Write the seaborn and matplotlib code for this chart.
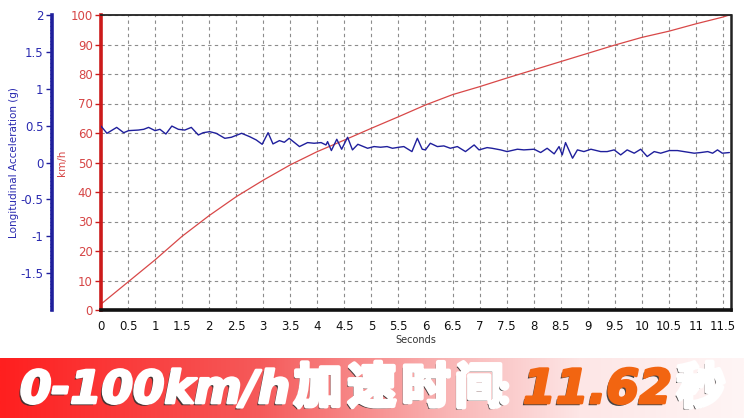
import matplotlib
matplotlib.use('Agg')
import matplotlib.pyplot as plt
import matplotlib.patheffects as pe
from matplotlib.ticker import MultipleLocator, FormatStrFormatter
from matplotlib.colors import LinearSegmentedColormap
import numpy as np
import pandas as pd
import seaborn as sns

# speed trace (km/h)
speed_t = [0, 0.5, 1, 1.5, 2, 2.5, 3, 3.5, 4, 4.5, 5, 5.5, 6, 6.5, 7,
           7.5, 8, 8.5, 9, 9.5, 10, 10.5, 11, 11.5, 11.62]
speed_kmh = [2, 9.5, 17, 25, 32, 38.4, 44, 49.2, 53.7, 57.6, 61.6, 65.5, 69.5, 73, 75.7,
             78.6, 81.4, 84.2, 87, 89.8, 92.4, 94.5, 97, 99.3, 100]

# longitudinal acceleration (g)
acc_t = [0, 0.11, 0.29, 0.42, 0.51, 0.69, 0.79, 0.88, 1.0, 1.09, 1.2, 1.31, 1.43, 1.55,
         1.67, 1.8, 1.89, 2.01, 2.13, 2.29, 2.41, 2.6, 2.75, 2.87, 2.98, 3.09, 3.18, 3.3,
         3.39, 3.48, 3.67, 3.82, 3.94, 4.07, 4.16, 4.19, 4.26, 4.36, 4.45, 4.56, 4.65, 4.75,
         4.93, 5.05, 5.17, 5.29, 5.39, 5.51, 5.6, 5.75, 5.85, 5.94,
         6.0, 6.09, 6.22, 6.34, 6.46, 6.59, 6.74, 6.9, 6.99, 7.14, 7.23, 7.39, 7.51, 7.7,
         7.82, 8.01, 8.13, 8.25, 8.38, 8.47, 8.53, 8.59, 8.72, 8.81, 8.93, 9.06, 9.24, 9.36,
         9.49, 9.61, 9.73, 9.86, 9.98, 10.1, 10.23, 10.35, 10.51, 10.66, 10.78, 10.97, 11.09,
         11.22, 11.31, 11.4, 11.49, 11.62]
acc_g = [0.494, 0.396, 0.476, 0.404, 0.432, 0.44, 0.45, 0.476, 0.432, 0.45, 0.386, 0.494,
         0.45, 0.44, 0.476, 0.373, 0.404, 0.418, 0.396, 0.328, 0.342, 0.396, 0.35, 0.306,
         0.247, 0.404, 0.252, 0.297, 0.274, 0.328, 0.216, 0.27, 0.261, 0.27, 0.238, 0.283,
         0.162, 0.315, 0.18, 0.342, 0.171, 0.247, 0.193, 0.216, 0.207, 0.216, 0.193, 0.207,
         0.216, 0.148, 0.328, 0.18,
         0.171, 0.261, 0.216, 0.225, 0.193, 0.216, 0.148, 0.238, 0.171, 0.202, 0.193, 0.171,
         0.148, 0.18, 0.171, 0.18, 0.135, 0.193, 0.117, 0.216, 0.103, 0.27, 0.058, 0.171,
         0.148, 0.18, 0.148, 0.148, 0.171, 0.103, 0.171, 0.126, 0.18, 0.081, 0.148, 0.126,
         0.162, 0.162, 0.148, 0.126, 0.135, 0.148, 0.126, 0.171, 0.126, 0.135]

x_ticks = np.arange(0, 11.51, 0.5)
x_tick_labels = ['%g' % v for v in x_ticks]

# banner text: Latin runs and CJK glyphs
banner_latin = ['0-100km/h', '11.62']
banner_cjk = ['加', '速', '时', '间', '：', '秒']

RED = '#cc1a1a'
RED_TXT = '#d64545'
BLUE = '#1f1f9c'
BLUE_TXT = '#2a2ab0'
ORANGE = '#f26511'

sns.set_style('white')
plt.rcParams['font.family'] = ['DejaVu Sans', 'Noto Sans CJK SC']

fig = plt.figure(figsize=(7.44, 4.18), dpi=100)
ax = fig.add_axes([101 / 744, 1 - 310 / 418, 630 / 744, 295 / 418])

speed_df = pd.DataFrame({'t': speed_t, 'v': speed_kmh})
acc_df = pd.DataFrame({'t': acc_t, 'g': acc_g})

sns.lineplot(data=speed_df, x='t', y='v', ax=ax, color='#d84848', linewidth=0.9)
ax.set_xlim(0, 11.65)
ax.set_ylim(0, 100)
ax.set_xticks(x_ticks)
ax.set_xticklabels(x_tick_labels)
ax.xaxis.set_minor_locator(MultipleLocator(0.125))
ax.yaxis.set_major_locator(MultipleLocator(10))
ax.grid(True, which='major', color='#8c8c8c', linestyle=(0, (3, 3)), linewidth=0.8)
ax.tick_params(axis='x', which='major', length=4, width=1, labelsize=8.5, colors='#111111', pad=3)
ax.tick_params(axis='x', which='minor', length=2, width=0.8, color='#111111')
ax.tick_params(axis='y', which='major', length=4, width=1, labelsize=8.5,
               colors=RED, labelcolor=RED_TXT, pad=2)
ax.set_xlabel('')
ax.set_ylabel('km/h', color=RED_TXT, fontsize=7.5)
ax.yaxis.set_label_coords(-34 / 630, 0.5)
ax.spines['left'].set_color(RED)
ax.spines['left'].set_linewidth(2.6)
ax.spines['bottom'].set_color('#111111')
ax.spines['bottom'].set_linewidth(2.6)
ax.spines['top'].set_color('#222222')
ax.spines['top'].set_linewidth(1.3)
ax.spines['right'].set_color('#222222')
ax.spines['right'].set_linewidth(1.8)

ax2 = ax.twinx()
sns.lineplot(data=acc_df, x='t', y='g', ax=ax2, color=BLUE, linewidth=1.0)
ax2.set_ylim(-2, 2)
ax2.yaxis.set_ticks_position('left')
ax2.yaxis.set_label_position('left')
ax2.spines['left'].set_position(('outward', 49 * 72 / 100))
ax2.spines['left'].set_color(BLUE)
ax2.spines['left'].set_linewidth(2.6)
for s in ['right', 'top', 'bottom']:
    ax2.spines[s].set_visible(False)
ax2.set_yticks([-1.5, -1, -0.5, 0, 0.5, 1, 1.5, 2])
ax2.yaxis.set_major_formatter(FormatStrFormatter('%g'))
ax2.yaxis.set_minor_locator(MultipleLocator(0.05))
ax2.tick_params(axis='y', which='major', length=4, width=1, labelsize=8.5,
                colors=BLUE, labelcolor=BLUE_TXT, pad=2)
ax2.tick_params(axis='y', which='minor', length=1.5, width=0.8, colors=BLUE)
ax2.set_xlabel('')
ax2.set_ylabel('Longitudinal Acceleration (g)', color=BLUE_TXT, fontsize=7.5)
ax2.yaxis.set_label_coords(-82 / 630, 0.5)
ax2.set_xlim(0, 11.65)

fig.text(416 / 744, 1 - 340 / 418, 'Seconds', ha='center', va='center',
         fontsize=7, color='#333333')

# banner with red-to-white gradient
bax = fig.add_axes([0, 0, 1, 60 / 418])
bax.set_axis_off()
grad = LinearSegmentedColormap.from_list('banner', [
    (0.0, '#ff1f1f'), (0.35, '#f55a5a'), (0.6, '#f9b4b4'),
    (0.78, '#fde6e6'), (1.0, '#fff5f5')])
bax.imshow(np.linspace(0, 1, 256)[None, :], aspect='auto', cmap=grad,
           extent=[0, 1, 0, 1])
bax.set_xlim(0, 1)
bax.set_ylim(0, 1)


def effects(col, sw):
    return [pe.withSimplePatchShadow(offset=(-1.6, -1.6), shadow_rgbFace='#333333', alpha=0.9),
            pe.withStroke(linewidth=sw, foreground=col)]


base_y = 1 - 403 / 418
renderer = fig.canvas.get_renderer()
# Latin runs fitted to their span in the reference
for part, col, (x0, x1) in zip(banner_latin, ['white', ORANGE], [(20, 290), (523, 672)]):
    t = fig.text(x0 / 744, base_y, part, fontsize=30, color=col, fontweight='bold',
                 style='italic', ha='left', va='baseline', path_effects=effects(col, 2.0))
    w = t.get_window_extent(renderer).width
    t.set_fontsize(30 * (x1 - x0) / w)

# CJK glyphs centred at their reference positions
for ch, cx in zip(banner_cjk, [318, 372, 426, 479, 512, 701]):
    fs = 22 if ch == '：' else 35
    fig.text(cx / 744, base_y, ch, fontsize=fs, color='white', fontweight='bold',
             ha='center', va='baseline', family=['Noto Sans CJK SC', 'DejaVu Sans'],
             path_effects=effects('white', 3.0))

fig.savefig('out.png', dpi=100)
